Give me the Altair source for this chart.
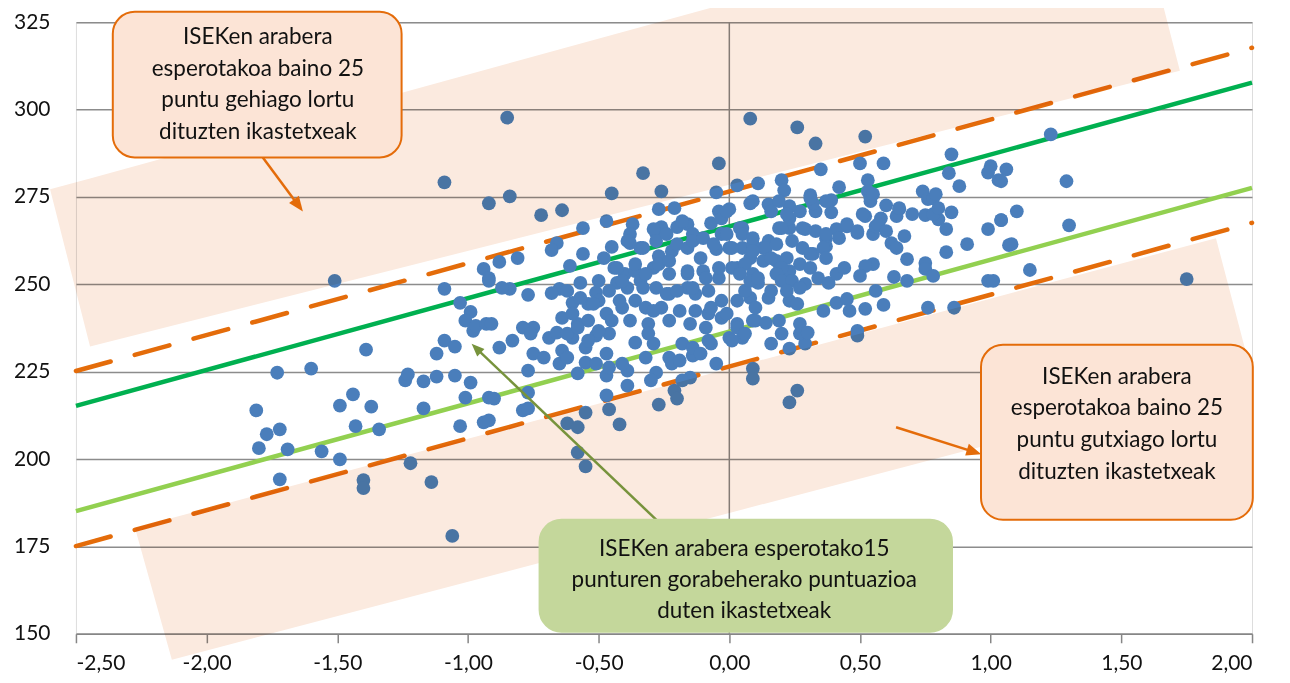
import altair as alt
import pandas as pd

# ---------------- data ----------------
# school points: x = ISEK index, y = score
pt_x = [-1.81,-1.80,-1.77,-1.72,-1.73,-1.72,-1.69,-1.51,-1.60,-1.56,-1.49,-1.49,-1.44,-1.43,-1.40,-1.40,-1.39,-1.37,-1.34,-1.22,
        -1.14,-1.06,-1.24,-1.23,-1.17,-1.12,-1.05,-0.99,-1.12,-1.09,-1.05,-0.98,-1.17,-1.01,-1.03,-0.94,-0.92,-1.09,-0.92,-0.94,
        -1.09,-1.03,-0.99,-1.01,-0.97,-0.93,-0.92,-0.85,-0.84,-0.72,-0.64,-0.45,-0.33,-0.26,-0.04,0.03,-0.05,0.08,-0.27,-0.21,
        -0.47,-0.56,-0.66,-0.68,-0.81,-0.88,-0.56,-0.61,-0.45,-0.48,-0.37,-0.38,-0.38,-0.34,-0.28,-0.26,-0.20,-0.16,-0.14,-0.07,
        -0.04,0.00,-0.03,0.04,-0.05,0.00,0.05,-0.27,-0.22,-0.16,-0.11,-0.29,-0.23,-0.16,-0.10,-0.04,0.03,-0.44,-0.40,-0.36,
        -0.34,-0.39,-0.43,-0.51,-0.57,-0.60,-0.65,-0.68,-0.77,-0.84,-0.87,-0.92,-0.28,-0.23,-0.16,-0.13,-0.08,-0.03,0.03,-0.54,
        -0.50,-0.47,-0.41,-0.36,-0.32,-0.26,-0.19,-0.13,-0.08,-0.03,0.03,-0.64,-0.58,-0.54,-0.75,-0.79,-0.91,-0.38,-0.31,-0.23,
        -0.15,-0.09,-0.88,-0.83,-0.90,-0.92,-0.77,-0.77,-0.79,-0.77,-0.75,-0.71,-0.69,-0.65,-0.64,-0.62,-0.60,-0.58,-0.55,-0.51,
        -0.55,-0.47,-0.47,-0.47,-0.46,-0.55,-0.62,-0.58,-0.58,-0.55,-0.42,-0.39,-0.41,-0.39,-0.36,-0.32,-0.29,-0.31,-0.28,-0.30,
        -0.27,-0.23,-0.22,-0.21,-0.20,-0.18,-0.14,-0.15,-0.18,-0.07,-0.05,0.00,0.05,-0.76,-0.66,-0.51,-0.46,0.26,0.33,0.52,
        0.35,0.50,0.59,0.85,0.84,0.88,1.00,0.99,1.03,0.11,0.20,0.21,0.42,0.53,0.53,0.54,0.74,0.76,0.78,0.31,
        0.39,0.39,0.33,0.32,0.27,0.23,0.15,0.08,0.19,0.52,0.54,0.60,0.65,0.64,0.70,0.75,0.80,0.85,0.83,0.99,
        1.04,0.91,0.83,1.07,0.68,0.75,0.75,0.78,0.67,0.62,0.64,0.63,0.68,0.55,0.52,0.50,0.56,0.55,0.56,0.58,
        0.49,0.45,0.41,0.37,0.37,0.33,0.29,0.32,0.28,0.24,0.23,0.19,0.23,0.15,0.13,0.09,0.08,0.13,0.18,0.22,
        0.27,0.19,0.23,0.34,0.38,0.41,0.44,0.29,0.11,0.15,0.23,0.26,0.08,0.36,0.41,0.45,0.46,0.52,0.59,0.10,
        0.14,0.19,0.27,0.76,0.86,0.99,1.01,0.49,1.23,1.06,1.04,1.29,1.10,1.04,1.30,1.08,1.15,1.75,0.49,0.23,
        0.29,0.16,0.20,0.27,0.09,0.09,0.26,0.23,0.30,-0.54,-0.50,-0.45,-0.46,-0.19,-0.14,-0.11,-0.08,-0.01,-0.07,0.03,
        0.06,0.01,0.09,0.10,-0.29,-0.18,-0.03,-0.01,0.09,-0.39,-0.33,-0.28,-0.24,-0.20,-0.14,-0.10,-0.06,-0.01,0.01,0.05,
        -0.43,-0.36,-0.32,-0.27,-0.23,-0.16,-0.14,-0.09,-0.04,0.01,0.06,0.09,0.06,-0.50,-0.46,-0.41,-0.33,-0.24,-0.20,-0.42,
        -0.29,-0.62,-0.57,-0.52,-0.60,-0.62,-0.58,0.16,0.22,0.31,0.37,0.05,0.09,0.20,0.28,0.37,0.42,0.45,0.49,0.09,
        0.14,0.18,0.31,0.36,0.37,0.16,0.20,0.31,0.04,0.08,0.11,0.18,0.20,0.24,0.16,0.22,0.27,0.51,0.55,0.57,
        0.60,0.65,0.78,0.80,0.79]
pt_y = [213.9,203.1,207.1,208.5,224.7,194.2,202.8,251.0,225.9,202.2,199.9,215.3,218.5,209.4,194.0,191.7,231.3,215.0,208.5,198.8,
        193.4,178.0,222.5,224.2,222.2,223.6,223.9,221.9,230.2,233.9,232.2,236.7,214.5,217.6,209.4,210.5,217.6,279.2,273.2,254.4,
        248.7,244.7,242.1,239.6,238.1,238.7,251.8,297.7,275.2,269.8,271.2,276.0,281.8,276.6,284.6,278.3,276.3,297.4,271.5,271.8,
        268.1,266.1,261.8,259.8,257.5,256.4,258.7,255.3,260.7,257.5,267.2,264.4,261.8,260.4,264.6,266.4,266.4,267.2,264.4,267.5,
        270.9,271.5,264.4,266.1,260.1,260.4,260.4,258.1,259.5,260.4,257.5,254.7,253.0,253.0,253.8,251.8,254.7,254.7,253.0,253.8,
        251.0,249.0,250.4,247.6,250.4,244.7,248.7,247.5,247.0,248.7,249.0,251.0,249.0,247.3,249.0,247.3,248.1,245.3,245.3,244.4,
        245.3,241.6,243.3,245.3,243.3,243.3,242.4,242.4,241.6,240.4,238.7,240.4,238.7,239.6,237.6,237.6,238.7,239.6,238.7,239.6,
        238.7,237.6,231.9,233.9,217.3,211.1,219.0,225.3,213.9,214.5,230.2,229.0,234.7,227.3,231.0,229.0,234.7,224.5,227.6,227.3,
        231.9,223.9,230.2,218.2,214.2,213.3,210.2,209.1,201.9,197.9,209.9,225.3,227.3,221.0,233.3,229.0,233.0,235.9,224.7,222.5,
        215.6,229.0,227.3,219.6,217.3,233.0,229.6,223.3,222.5,233.0,227.3,234.7,234.7,235.9,236.2,235.3,235.9,294.9,290.3,292.3,
        282.9,284.6,284.6,287.2,281.8,278.1,283.8,282.0,279.8,278.9,279.8,276.9,277.8,279.8,276.6,274.6,276.6,274.4,274.6,275.5,
        274.1,270.6,270.9,273.2,270.9,272.4,272.9,273.2,273.8,269.5,273.8,272.6,271.5,269.5,270.1,269.8,268.6,270.6,265.8,265.8,
        268.4,261.5,259.2,261.2,257.2,256.1,254.4,252.4,263.8,261.8,260.4,252.1,251.0,255.8,255.2,252.4,248.1,264.4,266.6,268.9,
        264.7,266.6,265.8,263.2,260.9,265.2,265.8,258.7,260.4,262.4,266.1,266.1,268.9,262.4,260.4,261.5,257.5,256.7,256.7,257.5,
        255.8,253.8,253.8,251.8,250.4,253.0,254.7,250.1,250.4,246.1,245.3,244.4,246.1,242.4,244.7,245.8,242.4,243.0,244.1,239.6,
        239.0,239.6,238.7,243.3,243.3,251.0,251.0,236.7,292.9,282.9,279.5,279.5,270.9,268.4,266.9,261.5,254.1,251.5,235.3,231.6,
        233.0,233.0,235.9,235.9,225.9,223.0,219.6,216.2,236.2,233.9,236.7,239.6,226.2,228.2,231.9,230.2,233.9,241.6,243.3,237.6,
        235.9,233.9,239.6,243.3,265.8,268.1,268.9,270.9,273.8,262.4,260.4,262.4,264.4,261.5,262.4,263.2,261.5,264.4,260.4,266.1,
        254.7,255.8,253.0,255.8,256.7,253.8,249.0,251.8,254.7,254.7,255.8,253.0,248.1,251.0,248.1,251.0,249.0,247.3,248.1,245.3,
        242.4,248.1,246.1,244.4,241.6,235.9,237.6,270.9,270.1,274.6,273.8,264.4,263.2,266.1,266.1,264.4,263.2,267.2,265.2,259.5,
        260.4,261.5,258.7,260.4,257.5,257.5,254.7,254.7,253.0,251.0,251.8,253.0,251.0,251.0,248.1,248.1,249.0,270.1,275.8,267.2,
        265.2,271.8,270.1,271.8,275.8]

# reference lines (end points read at x = -2.5 and x = 2.0)
line_x = [-2.5, 2.0]
upper25 = [225.2, 317.7]
upper15 = [215.2, 307.7]
lower15 = [185.1, 277.6]
lower25 = [175.1, 267.6]

# shaded bands (rotated rectangles) as x / lower / upper boundaries
band_up_x = [-2.599, -2.446, 1.548, 1.724]
band_up_lo = [277.2, 232.2, 307.8, 311.1]
band_up_hi = [277.2, 280.3, 362.4, 311.1]
band_dn_x = [-2.274, -2.133, 1.862, 2.0]
band_dn_lo = [180.3, 142.6, 221.2, 223.9]
band_dn_hi = [180.3, 183.1, 263.2, 223.9]

# annotation boxes
box_names = ["gehiago", "gutxiago", "tartea"]
box_x1 = [-2.359, 0.963, -0.726]
box_x2 = [-1.254, 2.003, 0.852]
box_y1 = [328.0, 232.7, 182.6]
box_y2 = [286.3, 182.6, 150.6]
box_fill = ["#FCE4D6", "#FCE4D6", "#C4D79B"]
box_stroke = ["#E46C0A", "#E46C0A", "#C4D79B"]

text_lines = ["ISEKen arabera", "esperotakoa baino 25", "puntu gehiago lortu", "dituzten ikastetxeak",
              "ISEKen arabera", "esperotakoa baino 25", "puntu gutxiago lortu", "dituzten ikastetxeak",
              "ISEKen arabera esperotako15", "punturen gorabeherako puntuazioa", "duten ikastetxeak"]
text_x = [-1.804] * 4 + [1.483] * 4 + [0.057] * 3
text_y = [318.7, 309.7, 300.7, 291.7, 221.5, 212.5, 203.4, 194.3, 172.3, 163.5, 154.6]

# arrows: start -> head centre
arr_x1 = [-1.785, 0.638, -0.279]
arr_y1 = [286.3, 209.1, 182.6]
arr_x2 = [-1.653, 0.930, -0.964]
arr_y2 = [273.0, 202.2, 231.4]
arr_angle = [143.5, 107.6, 313.7]
arr_color = ["#E46C0A", "#E46C0A", "#77933C"]
arr_size = [353, 353, 256]

x_ticks = [-2.5, -2.0, -1.5, -1.0, -0.5, 0.0, 0.5, 1.0, 1.5, 2.0]
y_ticks = [150, 175, 200, 225, 250, 275, 300, 325]

FONT = "Lato"

# ---------------- chart ----------------
xs = alt.Scale(domain=[-2.5, 2.0], nice=False, zero=False)
ys = alt.Scale(domain=[150, 325], nice=False, zero=False)

x_axis = alt.Axis(values=x_ticks, title=None, grid=False,
                  labelExpr="replace(replace(format(datum.value, '.2f'), '.', ','), '\u2212', '-')",
                  domainColor="#868686", domainWidth=1.5, tickColor="#868686", tickWidth=1.5,
                  tickSize=9, labelPadding=10, labelFont=FONT, labelFontSize=21, labelColor="#111111")
y_axis = alt.Axis(values=y_ticks, title=None, grid=True, gridColor="#8C8C8C", gridWidth=1.5,
                  domain=False, ticks=False, tickSize=0, labelPadding=26, labelFont=FONT,
                  labelFontSize=21, labelColor="#111111")

pts_df = pd.DataFrame({"x": pt_x, "y": pt_y})

base_axes = alt.Chart(pd.DataFrame({"x": [0.0], "y1": [150], "y2": [325]})).mark_rule(
    color="#868686", strokeWidth=1.5
).encode(
    x=alt.X("x:Q", scale=xs, axis=x_axis),
    y=alt.Y("y1:Q", scale=ys, axis=y_axis),
    y2="y2:Q",
)

solid_df = pd.DataFrame({
    "x": line_x * 2,
    "y": upper15 + lower15,
    "s": ["a", "a", "b", "b"],
    "c": ["#00B050", "#00B050", "#92D050", "#92D050"],
})
solid = alt.Chart(solid_df).mark_line(strokeWidth=4.5).encode(
    x=alt.X("x:Q", scale=xs), y=alt.Y("y:Q", scale=ys), detail="s:N",
    color=alt.Color("c:N", scale=None),
)

dash_df = pd.DataFrame({"x": line_x * 2, "y": upper25 + lower25, "s": ["u", "u", "d", "d"]})
dashed = alt.Chart(dash_df).mark_line(strokeWidth=4.5, color="#E46C0A",
                                      strokeDash=[36, 25], strokeCap="round").encode(
    x=alt.X("x:Q", scale=xs), y=alt.Y("y:Q", scale=ys), detail="s:N",
)

points = alt.Chart(pts_df).mark_circle(size=190, color="#4A7EBB", opacity=1).encode(
    x=alt.X("x:Q", scale=xs), y=alt.Y("y:Q", scale=ys),
)

band_df = pd.DataFrame({
    "x": band_up_x + band_dn_x,
    "lo": band_up_lo + band_dn_lo,
    "hi": band_up_hi + band_dn_hi,
    "b": ["up"] * 4 + ["dn"] * 4,
})
bands = alt.Chart(band_df).mark_area(color="#FBEADF", opacity=1, blend="multiply").encode(
    x=alt.X("x:Q", scale=xs), y=alt.Y("lo:Q", scale=ys), y2="hi:Q", detail="b:N",
)

arr_df = pd.DataFrame({"x1": arr_x1, "y1": arr_y1, "x2": arr_x2, "y2": arr_y2,
                       "a": arr_angle, "c": arr_color, "sz": arr_size})
arrow_lines = alt.Chart(arr_df).mark_rule(strokeWidth=2.5).encode(
    x=alt.X("x1:Q", scale=xs), y=alt.Y("y1:Q", scale=ys), x2="x2:Q", y2="y2:Q",
    color=alt.Color("c:N", scale=None),
)
arrow_heads = alt.Chart(arr_df).mark_point(
    shape="M0,-1L0.65,0.6L-0.65,0.6Z", filled=True, opacity=1, strokeWidth=0
).encode(
    x=alt.X("x2:Q", scale=xs), y=alt.Y("y2:Q", scale=ys),
    angle=alt.Angle("a:Q", scale=None),
    color=alt.Color("c:N", scale=None),
    size=alt.Size("sz:Q", scale=None),
)

box_df = pd.DataFrame({"n": box_names, "x1": box_x1, "x2": box_x2, "y1": box_y1, "y2": box_y2,
                       "f": box_fill, "s": box_stroke})
boxes = alt.Chart(box_df).mark_rect(cornerRadius=22, strokeWidth=2).encode(
    x=alt.X("x1:Q", scale=xs), x2="x2:Q", y=alt.Y("y1:Q", scale=ys), y2="y2:Q",
    fill=alt.Fill("f:N", scale=None), stroke=alt.Stroke("s:N", scale=None),
)

txt_df = pd.DataFrame({"x": text_x, "y": text_y, "t": text_lines})
texts = alt.Chart(txt_df).mark_text(font=FONT, fontSize=22.5, color="#111111",
                                    align="center", baseline="alphabetic").encode(
    x=alt.X("x:Q", scale=xs), y=alt.Y("y:Q", scale=ys), text="t:N",
)

chart = alt.layer(
    base_axes, solid, dashed, points, bands, arrow_lines, arrow_heads, boxes, texts
).properties(
    width=1177, height=612,
    autosize=alt.AutoSizeParams(type="none"),
    padding={"left": 68, "top": 14, "right": 30, "bottom": 40},
).configure_view(stroke=None).configure(background="white")

chart.save("out.html", embed_options={"renderer": "svg", "actions": False})
